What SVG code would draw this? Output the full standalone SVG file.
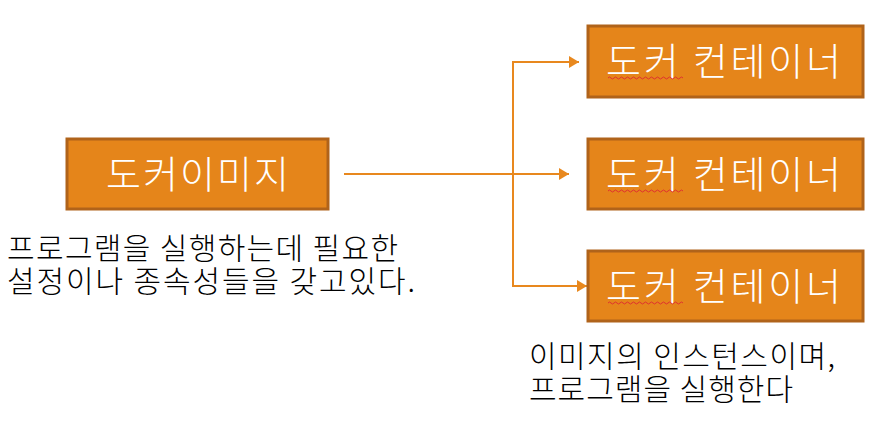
<svg xmlns="http://www.w3.org/2000/svg" width="882" height="425" viewBox="0 0 882 425">
<defs>
<style>
.box{fill:#E5851A;stroke:#B0631A;stroke-width:3}
.bt{font-family:"Noto Sans CJK KR","Noto Sans",sans-serif;font-size:38px;font-weight:300;fill:#FFFFFF}
.tx{font-family:"Noto Sans CJK KR","Noto Sans",sans-serif;font-size:30px;font-weight:300;fill:#000000}
.ln{fill:none;stroke:#E8881E;stroke-width:2}
.sq{fill:none;stroke:#E03030;stroke-width:1}
</style>
<marker id="ah" markerWidth="10" markerHeight="12" refX="10" refY="6" orient="auto" markerUnits="userSpaceOnUse">
<path d="M0,0 L10,6 L0,12 Z" fill="#E8881E"/>
</marker>
<path id="wave" d="M0,0 q1.5,-2 3,0 t3,0 t3,0 t3,0 t3,0 t3,0 t3,0 t3,0 t3,0 t3,0 t3,0 t3,0 t3,0 t3,0 t3,0 t3,0 t3,0 t3,0 t3,0 t3,0 t3,0 t3,0 t3,0 t3,0 t3,0"/>
</defs>
<g id="connectors">
<line class="ln" x1="344" y1="174" x2="569" y2="174" marker-end="url(#ah)"/>
<polyline class="ln" points="579,62 513,62 513,286 587,286" marker-end="url(#ah)"/>
<path class="ln" d="M513,62 L579,62" marker-end="url(#ah)"/>
</g>
<g id="image">
<rect class="box" x="67" y="139" width="261" height="70"/>
<text class="bt" x="106" y="188" textLength="183" lengthAdjust="spacing">도커이미지</text>
</g>
<g id="container1">
<rect class="box" x="588" y="26" width="275" height="71"/>
<text class="bt" x="606" y="75" textLength="235" lengthAdjust="spacing">도커 컨테이너</text>
<use href="#wave" class="sq" x="608" y="78"/>
</g>
<g id="container2">
<rect class="box" x="588" y="139" width="275" height="70"/>
<text class="bt" x="606" y="188" textLength="235" lengthAdjust="spacing">도커 컨테이너</text>
<use href="#wave" class="sq" x="608" y="191"/>
</g>
<g id="container3">
<rect class="box" x="588" y="251" width="275" height="70"/>
<text class="bt" x="606" y="300" textLength="235" lengthAdjust="spacing">도커 컨테이너</text>
<use href="#wave" class="sq" x="608" y="303"/>
</g>
<g id="image-desc">
<text class="tx" x="7" y="259" textLength="391" lengthAdjust="spacing">프로그램을 실행하는데 필요한</text>
<text class="tx" x="7" y="292" textLength="408" lengthAdjust="spacing">설정이나 종속성들을 갖고있다.</text>
</g>
<g id="container-desc">
<text class="tx" x="529" y="367" textLength="306" lengthAdjust="spacing">이미지의 인스턴스이며,</text>
<text class="tx" x="529" y="400" textLength="264" lengthAdjust="spacing">프로그램을 실행한다</text>
</g>
</svg>
